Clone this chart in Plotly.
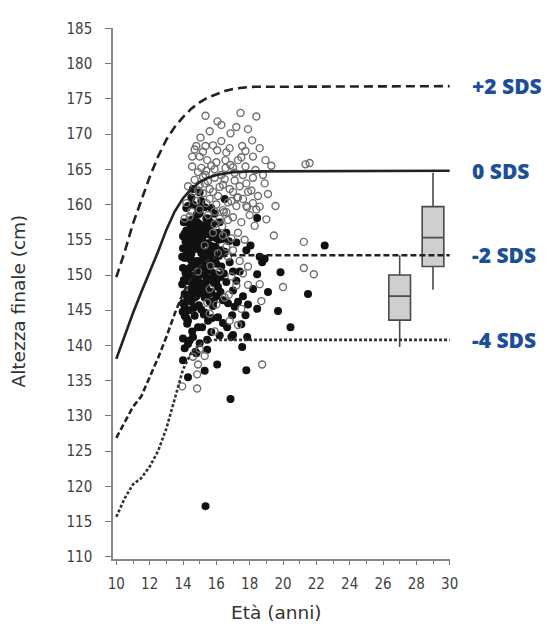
import plotly.graph_objects as go

# ---------------- reference curves (age, height) ----------------
p2_age = [10, 10.5, 11, 11.5, 12, 12.5, 13, 13.5, 14, 14.5, 15, 15.5, 16, 16.5, 17, 18, 30]
p2_h   = [149.7, 153.3, 157.3, 160.7, 163.9, 166.8, 169.2, 171.0, 172.4, 173.6, 174.5, 175.2, 175.7, 176.1, 176.4, 176.7, 176.8]

z0_age = [10, 10.5, 11, 11.5, 12, 12.5, 13, 13.5, 14, 14.5, 15, 15.5, 16, 16.5, 17, 18, 30]
z0_h   = [138.1, 141.5, 144.6, 147.6, 150.4, 153.3, 156.4, 159.0, 160.9, 162.2, 163.2, 163.8, 164.2, 164.4, 164.6, 164.7, 164.8]

m2_age = [10, 10.5, 11, 11.5, 12, 12.5, 13, 13.5, 14, 14.5, 15, 15.5, 16, 17, 30]
m2_h   = [126.9, 129.0, 131.3, 132.8, 135.5, 138.2, 141.2, 144.5, 147.4, 149.6, 151.2, 152.1, 152.6, 152.8, 152.8]

m4_age = [10, 10.5, 11, 11.5, 12, 12.5, 13, 13.5, 14, 14.5, 15, 15.5, 16, 30]
m4_h   = [115.7, 118.3, 120.3, 121.2, 122.8, 125.0, 128.2, 132.5, 136.6, 139.0, 140.2, 140.7, 140.8, 140.8]

sds_labels = ["+2 SDS", "0 SDS", "-2 SDS", "-4 SDS"]
sds_levels = [176.8, 164.8, 152.8, 140.8]

# ---------------- box plots ----------------
box_x      = [27, 29]
box_low    = [139.8, 147.9]
box_q1     = [143.6, 151.2]
box_median = [147.0, 155.3]
box_q3     = [150.0, 159.7]
box_high   = [152.8, 164.5]

# ---------------- scatter: filled (black) points ----------------
filled_age = [
    14.2, 14.5, 14.8, 15.1, 15.4, 14.3, 15.0, 15.7, 16.2, 14.6, 18.45, 16.5,
    14.0, 14.2, 14.4, 14.5, 14.7, 14.9, 15.0, 15.2, 15.3, 15.5, 15.6, 15.8, 16.0,
    14.1, 14.6, 15.4, 14.3, 16.3, 16.6, 17.2, 17.8, 18.05, 14.8, 15.9, 14.0, 15.1,
    14.0, 14.2, 14.3, 14.5, 14.6, 14.8, 14.9, 15.1, 15.2, 15.4, 15.5, 15.7, 15.9,
    16.1, 16.3, 16.6, 17.0, 17.4, 18.45, 18.75, 19.85, 14.1, 15.0, 15.6, 16.8, 19.1,
    18.9, 18.6,
    14.1, 14.3, 14.5, 14.7, 14.9, 15.1, 15.3, 15.5, 15.8, 16.1, 16.4, 16.65, 16.95,
    17.75, 18.45, 19.7, 20.45, 21.5, 14.25, 15.15, 17.3, 16.0,
    14.0, 14.3, 14.75, 15.45, 15.45, 16.05, 17.55, 17.85, 17.0, 17.8, 14.6, 15.0,
    16.2, 15.7, 16.85, 15.35, 22.5,
    14.15, 14.35, 14.55, 14.75, 14.95, 15.15, 15.35, 15.55, 15.75, 14.25, 14.45,
    14.65, 14.85, 15.05, 15.25, 15.45, 15.65, 14.05, 14.4, 14.7, 15.0, 15.3, 15.6,
    14.2, 14.5, 14.8, 15.1, 15.4, 15.7, 16.0, 14.35, 14.65, 14.95, 15.25, 15.55,
    15.85, 16.15, 14.1, 14.45, 14.9, 15.35, 15.8, 16.25, 14.3, 14.8, 15.3, 15.75,
    14.05, 14.15, 14.25, 14.35, 14.45, 14.55, 14.65, 14.75, 14.85, 14.95, 15.05,
    15.15, 15.25, 15.35, 15.45, 15.55, 15.65, 15.75, 15.85, 15.95, 16.05, 16.15,
    16.25, 16.35, 16.45, 13.95, 13.95, 13.98, 14.0, 14.1, 14.2, 14.4, 14.55, 14.7,
    14.85, 15.0, 15.2, 15.5, 15.8, 16.1, 16.5, 16.75, 17.0, 17.1, 17.5, 16.9,
    14.3, 14.6, 15.0, 15.3, 14.0, 14.2, 14.4, 14.6, 14.8, 15.0, 15.2, 15.4, 15.6,
    15.8, 16.0, 14.3, 14.7, 15.1, 15.5, 15.9, 14.1, 14.5, 14.9, 15.7,
    16.7, 17.2, 17.6, 18.2, 16.4, 17.9,
]
filled_h = [
    159.5, 161.0, 158.5, 160.5, 158.0, 157.5, 157.2, 159.5, 157.5, 162.2, 158.1, 160.8,
    155.5, 154.0, 156.5, 153.0, 155.0, 156.8, 153.8, 155.6, 152.5, 154.5, 156.5, 153.2, 155.2,
    152.4, 157.0, 157.0, 152.8, 153.5, 156.0, 154.6, 153.5, 154.2, 152.0, 152.2, 153.8, 156.2,
    151.0, 149.2, 150.6, 148.0, 151.5, 149.5, 147.5, 150.8, 148.7, 151.8, 149.4, 147.6, 150.2,
    148.3, 151.2, 149.0, 147.8, 150.5, 150.1, 151.8, 150.4, 147.3, 152.0, 152.2, 151.8, 147.6,
    152.3, 152.6,
    145.5, 143.5, 146.2, 144.2, 142.6, 145.1, 146.8, 143.5, 145.6, 144.0, 146.4, 142.6, 144.3,
    144.3, 145.2, 144.9, 142.6, 147.3, 143.1, 142.6, 146.2, 147.0,
    137.9, 135.5, 139.1, 139.4, 140.8, 137.3, 139.8, 141.2, 141.5, 136.5, 141.2, 140.3,
    141.4, 141.9, 132.4, 117.2, 154.2,
    154.8, 155.8, 151.8, 153.7, 150.1, 154.9, 149.9, 151.1, 155.4, 149.9, 152.2,
    153.9, 148.6, 151.5, 156.7, 153.3, 150.6, 149.3, 147.1, 146.8, 148.9, 152.9, 146.2,
    156.3, 154.6, 150.9, 153.1, 149.1, 154.1, 151.6, 145.0, 148.4, 155.6, 147.2, 157.8,
    148.9, 155.0, 144.2, 150.0, 158.6, 144.6, 152.4, 149.7, 140.2, 138.9, 136.4, 143.9,
    157.5, 150.3, 146.5, 153.6, 149.0, 155.3, 145.3, 151.2, 154.3, 145.7, 148.1,
    152.0, 144.4, 150.7, 155.8, 147.3, 153.9, 149.5, 146.3, 154.0, 150.0, 152.7,
    147.6, 155.1, 150.2, 152.6, 148.7, 144.8, 141.0, 139.6, 143.9, 140.7, 142.0, 147.9,
    157.5, 158.8, 157.0, 158.0, 157.3, 156.0, 153.3, 154.8, 150.5, 145.5, 143.0, 141.2,
    159.8, 160.0, 161.7, 159.6, 146.0, 153.0, 151.0, 149.3, 147.0, 150.0, 151.4, 148.2, 150.8,
    152.0, 149.0, 155.0, 156.2, 154.0, 152.4, 158.7, 155.9, 157.8, 159.5, 155.8,
    146.0, 149.2, 147.0, 148.0, 143.2, 145.8,
]

# ---------------- scatter: open (grey) points ----------------
open_age = [
    15.35, 16.07, 17.45, 18.4, 16.85, 15.05, 15.8, 16.05, 17.55, 18.15, 17.75, 15.35,
    14.55, 15.45, 16.55, 17.3, 18.95, 14.55, 15.1, 15.4, 14.9, 16.55, 16.85, 17.75,
    18.35, 18.8, 15.35, 21.35, 21.6, 19.55, 19.45, 21.25, 21.25, 21.85, 20.0, 17.9,
    17.3, 18.75, 14.9, 14.85, 14.85, 13.95,
    14.7, 15.0, 15.3, 15.6, 15.9, 16.2, 16.5, 16.8, 17.1, 17.4, 17.8, 18.1, 18.5,
    18.2, 17.6, 17.2, 16.9, 16.4, 16.0, 15.6, 15.2, 14.8, 14.5, 15.5, 16.2, 16.7,
    17.0, 17.5, 18.0, 18.3, 17.3, 16.9, 16.4, 17.7, 17.0, 16.7, 17.4, 16.2, 16.9,
    17.2, 16.5, 16.0, 15.6, 17.5, 15.9, 16.8, 15.3, 15.0, 14.6, 18.6, 18.7, 17.9,
    15.8, 15.3, 14.9, 15.6, 14.4, 14.2, 14.3, 14.1, 17.9, 16.3, 15.0, 16.8, 17.1,
    18.9, 19.1, 18.4, 16.3, 15.7, 15.2, 14.8, 18.2, 17.0,
    16.6, 17.6, 15.9, 16.1, 17.25, 16.45, 15.65, 17.85, 16.75, 15.45, 16.35,
    14.6, 14.9, 15.2, 15.5, 15.8, 16.1, 16.4, 16.7, 17.0, 17.3, 17.6, 17.9, 18.2,
    15.0, 15.4, 15.9, 16.6, 17.8, 18.6, 19.0, 16.0, 16.6, 15.6, 17.2, 14.7, 15.9,
    17.5, 18.6, 16.3, 19.3,
]
open_h = [
    172.6, 171.8, 173.0, 172.5, 170.1, 169.5, 168.4, 167.7, 168.3, 169.1, 167.6, 168.3,
    166.8, 166.3, 166.3, 166.3, 166.3, 165.4, 165.2, 164.8, 164.6, 165.2, 165.6, 165.4,
    164.9, 164.2, 164.2, 165.7, 165.9, 159.8, 155.6, 154.7, 151.0, 150.1, 148.3, 148.6,
    142.9, 137.3, 137.3, 135.9, 133.9, 134.2,
    163.5, 162.8, 163.0, 162.2, 163.8, 162.5, 163.6, 162.2, 163.4, 162.6, 163.0, 162.0, 161.2,
    160.2, 160.8, 159.8, 160.5, 159.2, 160.0, 160.8, 161.6, 160.5, 159.0, 158.5, 158.0, 157.8,
    158.2, 157.5, 158.5, 157.0, 156.0, 155.2, 155.6, 155.0, 153.5, 152.6, 152.0, 150.5, 149.8,
    148.5, 146.8, 145.8, 144.5, 145.2, 142.0, 143.5, 138.5, 139.5, 138.4, 148.7, 146.3, 151.2,
    156.0, 154.2, 150.5, 148.0, 158.3, 160.2, 162.6, 158.0, 170.7, 169.0, 166.8, 168.0, 164.5,
    163.0, 161.5, 159.3, 164.2, 165.5, 167.5, 168.3, 166.8, 161.8,
    154.0, 150.2, 157.2, 153.1, 161.0, 158.9, 151.3, 159.6, 147.2, 146.1, 156.9,
    161.8, 162.0, 163.9, 163.3, 161.8, 161.2, 162.8, 160.3, 165.3, 161.0, 164.2, 161.8, 163.8,
    159.3, 160.2, 159.0, 158.9, 159.8, 159.7, 157.9, 166.0, 167.4, 170.4, 171.0, 167.8, 165.0,
    166.7, 168.0, 171.3, 165.5,
]

# ---------------- figure ----------------
fig = go.Figure()

fig.add_trace(go.Scatter(
    x=filled_age, y=filled_h, mode="markers",
    marker=dict(size=8, color="#111111", line=dict(width=0)),
    showlegend=False, hoverinfo="skip"))

fig.add_trace(go.Scatter(
    x=open_age, y=open_h, mode="markers",
    marker=dict(size=7, symbol="circle-open", color="#6e6e6e", line=dict(width=1.4)),
    showlegend=False, hoverinfo="skip"))

line_col = "#222222"
fig.add_trace(go.Scatter(x=p2_age, y=p2_h, mode="lines",
                         line=dict(color=line_col, width=2.6, dash="9px,5px"),
                         showlegend=False, hoverinfo="skip"))
fig.add_trace(go.Scatter(x=z0_age, y=z0_h, mode="lines",
                         line=dict(color=line_col, width=2.6),
                         showlegend=False, hoverinfo="skip"))
fig.add_trace(go.Scatter(x=m2_age, y=m2_h, mode="lines",
                         line=dict(color=line_col, width=2.6, dash="6px,3px"),
                         showlegend=False, hoverinfo="skip"))
fig.add_trace(go.Scatter(x=m4_age, y=m4_h, mode="lines",
                         line=dict(color="#333333", width=2.6, dash="3px,2px"),
                         showlegend=False, hoverinfo="skip"))

fig.add_trace(go.Box(
    x=box_x, lowerfence=box_low, q1=box_q1, median=box_median,
    q3=box_q3, upperfence=box_high,
    width=1.3, whiskerwidth=0,
    fillcolor="#cfcfcf", line=dict(color="#4a4a4a", width=1.6),
    showlegend=False, hoverinfo="skip"))

tick_font = dict(family="Liberation Sans Narrow, DejaVu Sans Condensed, sans-serif",
                 size=15, color="#3f3f3f")

# page body has an 8px default margin: figure is sized to fit the 550x628 window
fig.update_layout(
    width=542, height=620,
    margin=dict(l=105, r=100, t=16, b=69),
    plot_bgcolor="white", paper_bgcolor="white",
    showlegend=False,
    xaxis=dict(range=[9.8, 30.02], tickmode="array",
               tickvals=list(range(10, 31, 2)),
               ticks="outside", ticklen=4, tickwidth=1.2, tickcolor="#777777",
               minor=dict(tickvals=list(range(11, 30, 2)), ticks="outside",
                          ticklen=3, tickwidth=1.2, tickcolor="#777777"),
               showline=True, linecolor="#888888", linewidth=1.5,
               showgrid=False, zeroline=False, tickfont=tick_font,
               ticklabelstandoff=6),
    yaxis=dict(range=[109.7, 185.05], tickmode="array",
               tickvals=list(range(110, 186, 5)),
               ticks="outside", ticklen=6, tickwidth=1.2, tickcolor="#777777",
               showline=True, linecolor="#888888", linewidth=1.5,
               showgrid=False, zeroline=False, tickfont=tick_font,
               ticklabelstandoff=10),
)

for lab, lev in zip(sds_labels, sds_levels):
    fig.add_annotation(x=1, xref="paper", y=lev, yref="y", text=lab,
                       xanchor="left", yanchor="middle", xshift=20,
                       showarrow=False,
                       font=dict(family="Open Sans, Noto Sans, sans-serif", size=21,
                                 color="#1c4f98", weight=800))

title_font = dict(family="DejaVu Sans, sans-serif", size=18.5, color="#333333")
fig.add_annotation(text="Altezza finale (cm)", textangle=-90,
                   x=0, xref="paper", y=0.5, yref="paper",
                   xanchor="center", yanchor="middle", xshift=-95, yshift=-8,
                   showarrow=False, font=title_font)
fig.add_annotation(text="Età (anni)", x=0.5, xref="paper", y=0, yref="paper",
                   xanchor="center", yanchor="middle", yshift=-53, xshift=-5,
                   showarrow=False, font=title_font)

fig.write_html("out.html")
